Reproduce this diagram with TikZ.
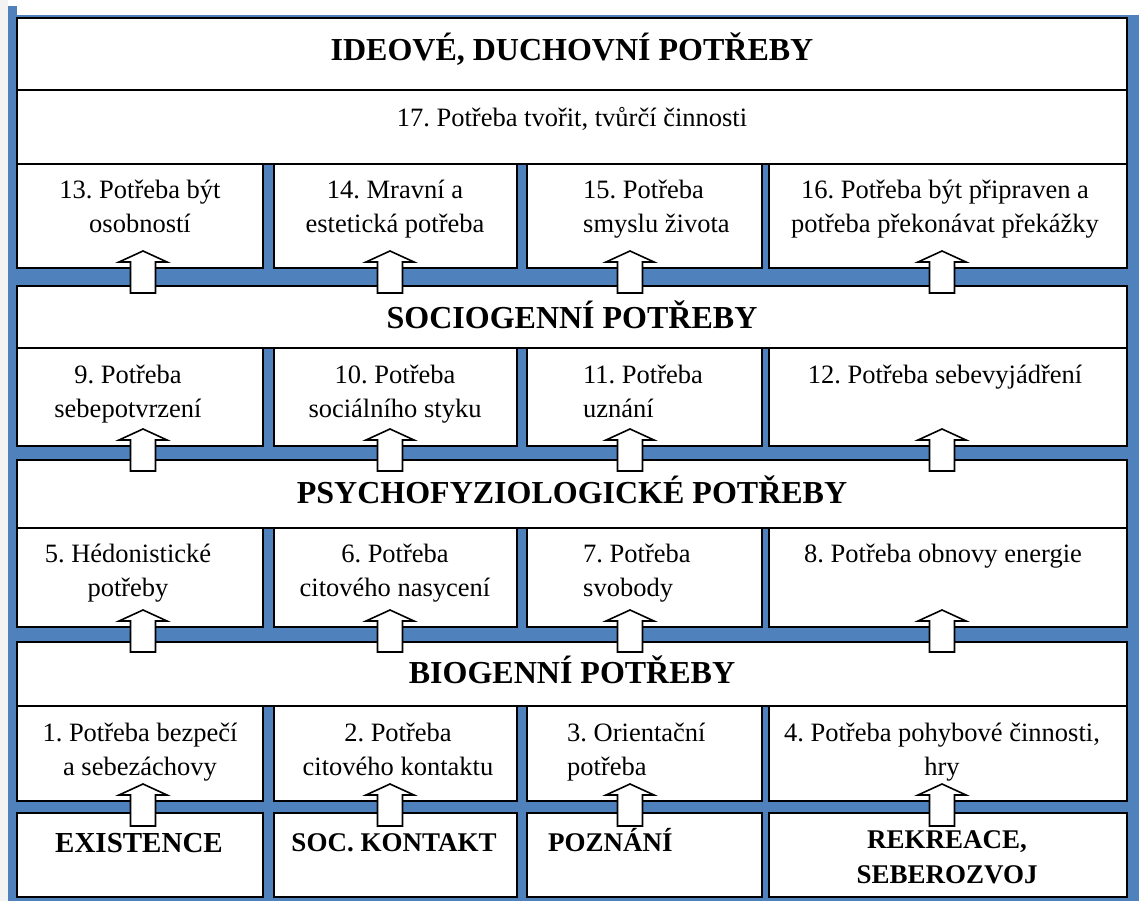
\documentclass[tikz,border=0pt]{standalone}
\usepackage{fontspec}
\setmainfont{Liberation Serif}
\frenchspacing
\definecolor{frameblue}{RGB}{79,129,189}
\definecolor{margingray}{RGB}{243,243,243}

% a white box with a black border, given by left, top, right, bottom
\newcommand\panel[5]{%
  \node[box, minimum width={(#4-#2)*1pt}, minimum height={(#5-#3)*1pt}]
    (#1) at ({(#2+#4)/2},{(#3+#5)/2}) {};}
% hollow upward block arrow rising out of the lower edge of a box
\newcommand\liftarrow[2]{%
  \draw[blockarrow] ([xshift=#2pt]#1.south) ++(-12.5,25) -- ++(0,-31) -- ++(-11.5,0)
    -- ++(24,-11) -- ++(24,11) -- ++(-11.5,0) -- ++(0,31) -- cycle;}
\newcommand\cellstrut{\rule{0pt}{24pt}}
\newcommand\boldstrut{\rule{0pt}{22pt}}

\begin{document}
\begin{tikzpicture}[x=1pt,y=-1pt,
  box/.style={draw=black, line width=1.6pt, fill=white, rectangle, inner sep=0pt, outer sep=0pt},
  heading/.style={font=\fontsize{32}{38}\selectfont\bfseries, inner sep=0pt, anchor=base},
  basis/.style={font=\fontsize{27}{35}\selectfont\bfseries, inner sep=0pt, align=center},
  celltext/.style={font=\fontsize{26.5}{34.5}\selectfont, inner sep=0pt, align=center, anchor=north},
  lefttext/.style={celltext, align=left, anchor=north west},
  blockarrow/.style={draw=black, line width=1.6pt, fill=white, line join=miter},
]
\useasboundingbox (0,0) rectangle (1139,901);

% frame
\fill[margingray] (0,0) rectangle (8,901);
\fill[frameblue] (8,15) rectangle (1139,901);
\fill[frameblue] (8,6) rectangle (17,15);

% full-width bands
\panel{title}{17}{18}{1127}{90}
\panel{creative}{17}{90}{1127}{164}
\panel{socio}{17}{286}{1127}{348}
\panel{psycho}{17}{460}{1127}{528}
\panel{bio}{17}{642}{1127}{706}

% column cells
\panel{c13}{17}{164}{263}{268}
\panel{c14}{274}{164}{517}{268}
\panel{c15}{527}{164}{762}{268}
\panel{c16}{769}{164}{1127}{268}

\panel{c9}{17}{348}{263}{446}
\panel{c10}{274}{348}{517}{446}
\panel{c11}{527}{348}{762}{446}
\panel{c12}{769}{348}{1127}{446}

\panel{c5}{17}{528}{263}{627}
\panel{c6}{274}{528}{517}{627}
\panel{c7}{527}{528}{762}{627}
\panel{c8}{769}{528}{1127}{627}

\panel{c1}{17}{706}{263}{801}
\panel{c2}{274}{706}{517}{801}
\panel{c3}{527}{706}{762}{801}
\panel{c4}{769}{706}{1127}{801}

\panel{existence}{17}{813}{263}{897}
\panel{contact}{274}{813}{517}{897}
\panel{cognition}{527}{813}{762}{897}
\panel{recreation}{769}{813}{1127}{897}

% headings
\node[heading] (ttitle) at (572,61) {IDEOVÉ, DUCHOVNÍ POTŘEBY};
\node[heading] (tsocio) at (572,328) {SOCIOGENNÍ POTŘEBY};
\node[heading] (tpsycho) at (572,503) {PSYCHOFYZIOLOGICKÉ POTŘEBY};
\node[heading] (tbio) at (572,683) {BIOGENNÍ POTŘEBY};

\node[celltext, anchor=base] (t17) at (572,127) {17. Potřeba tvořit, tvůrčí činnosti};

% ideational needs
\node[celltext] (t13) at (140,174) {\cellstrut 13. Potřeba být\\osobností};
\node[celltext] (t14) at (395,174) {\cellstrut 14. Mravní a\\estetická potřeba};
\node[lefttext] (t15) at (583,174) {\cellstrut 15. Potřeba\\smyslu života};
\node[celltext] (t16) at (945,174) {\cellstrut 16. Potřeba být připraven a\\potřeba překonávat překážky};

% sociogenic needs
\node[celltext] (t9) at (128,359) {\cellstrut 9. Potřeba\\sebepotvrzení};
\node[celltext] (t10) at (395,359) {\cellstrut 10. Potřeba\\sociálního styku};
\node[lefttext] (t11) at (583,359) {\cellstrut 11. Potřeba\\uznání};
\node[celltext] (t12) at (945,359) {\cellstrut 12. Potřeba sebevyjádření};

% psychophysiological needs
\node[celltext] (t5) at (128,538) {\cellstrut 5. Hédonistické\\potřeby};
\node[celltext] (t6) at (395,538) {\cellstrut 6. Potřeba\\citového nasycení};
\node[lefttext] (t7) at (583,538) {\cellstrut 7. Potřeba\\svobody};
\node[celltext] (t8) at (943,538) {\cellstrut 8. Potřeba obnovy energie};

% biogenic needs
\node[celltext] (t1) at (140,717) {\cellstrut 1. Potřeba bezpečí\\a sebezáchovy};
\node[celltext] (t2) at (398,717) {\cellstrut 2. Potřeba\\citového kontaktu};
\node[lefttext] (t3) at (567,717) {\cellstrut 3. Orientační\\potřeba};
\node[celltext] (t4) at (942,717) {\cellstrut 4. Potřeba pohybové činnosti,\\hry};

% bottom row
\node[basis, anchor=base, font=\fontsize{29}{35}\selectfont\bfseries] (texist) at (139,852) {EXISTENCE};
\node[basis, anchor=base] (tcontact) at (394,851) {SOC. KONTAKT};
\node[basis, anchor=base west] (tcogn) at (548,851) {POZNÁNÍ};
\node[basis, anchor=north] (trecr) at (947,826) {\boldstrut REKREACE,\\SEBEROZVOJ};

% upward arrows between levels
\foreach \upper/\dx in {c13/3, c14/-5.5, c15/-14.5, c16/-6,
                        c9/3, c10/-5.5, c11/-14.5, c12/-6,
                        c5/3, c6/-5.5, c7/-14.5, c8/-6,
                        c1/3, c2/-5.5, c3/-14.5, c4/-6}
  {\liftarrow{\upper}{\dx}}
\end{tikzpicture}
\end{document}
